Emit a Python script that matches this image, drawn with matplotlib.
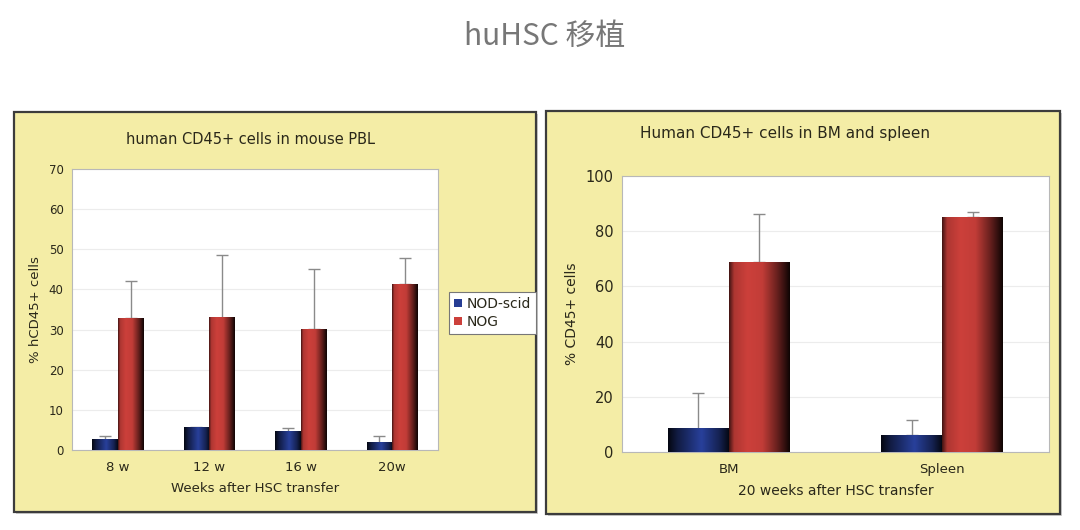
import numpy as np
import matplotlib
matplotlib.use("Agg")
import matplotlib.pyplot as plt
from matplotlib.patches import Rectangle, Patch

plt.rcParams['font.family'] = ['DejaVu Sans']

# left panel: peripheral blood, weeks after transfer
weeks = ["8 w", "12 w", "16 w", "20w"]
pbl_nodscid = [2.5, 5.5, 4.5, 1.8]
pbl_nodscid_err = [1.0, 0.3, 1.0, 1.8]
pbl_nog = [32.8, 33.0, 30.1, 41.3]
pbl_nog_err = [9.4, 15.7, 15.1, 6.5]

# right panel: BM and spleen at 20 weeks
organs = ["BM", "Spleen"]
org_nodscid = [8.5, 6.0]
org_nodscid_err = [12.8, 5.5]
org_nog = [68.7, 85.0]
org_nog_err = [17.5, 1.8]

series_names = ["NOD-scid", "NOG"]
BLUE = np.array([0.15, 0.24, 0.58])
RED = np.array([0.80, 0.25, 0.23])
PANEL_BG = "#F4EDA6"
TXT = "#2a281a"


def shade(base, profile_x, profile_y, n=64):
    t = np.linspace(0, 1, n)
    f = np.interp(t, profile_x, profile_y)
    return np.clip(base[None, :] * f[:, None], 0, 1)[None, :, :]


blue_grad = shade(BLUE, [0, 0.15, 0.55, 0.85, 1], [0.12, 0.45, 1.05, 0.55, 0.15])
red_grad = shade(RED, [0, 0.08, 0.3, 0.55, 0.8, 1], [0.35, 0.85, 1.0, 0.95, 0.5, 0.08])


def gradient_bars(ax, x, heights, width, grad):
    bars = ax.bar(x, heights, width, color="none", edgecolor="none", zorder=3)
    for b in bars:
        x0, w, h = b.get_x(), b.get_width(), b.get_height()
        ax.imshow(grad, extent=[x0, x0 + w, 0, h], aspect="auto",
                  interpolation="bilinear", zorder=3)
    return bars


def draw_panel(ax, cats, blue, blue_err, red, red_err, ymax, ystep, width,
               xlabel, ylabel, fs_y, fs_x, fs_lab):
    x = np.arange(len(cats))
    gradient_bars(ax, x - width / 2, blue, width, blue_grad)
    gradient_bars(ax, x + width / 2, red, width, red_grad)
    for xs, vals, errs in ((x - width / 2, blue, blue_err), (x + width / 2, red, red_err)):
        ax.errorbar(xs, vals, yerr=[np.zeros(len(errs)), errs], fmt="none",
                    ecolor="#8a8a8a", elinewidth=1, capsize=4, capthick=1, zorder=2)
    ax.set_xlim(-0.5, len(cats) - 0.5)
    ax.set_ylim(0, ymax)
    ax.set_yticks(np.arange(0, ymax + 1, ystep))
    ax.set_xticks(x)
    ax.set_xticklabels(cats)
    ax.yaxis.grid(True, color="#ececec", linewidth=0.8)
    ax.set_axisbelow(True)
    ax.tick_params(length=0, colors=TXT)
    ax.tick_params(axis="y", labelsize=fs_y, pad=6)
    ax.tick_params(axis="x", labelsize=fs_x, pad=8)
    for s in ax.spines.values():
        s.set_color("#b8b8b8")
        s.set_linewidth(0.8)
    ax.set_xlabel(xlabel, color=TXT, fontsize=fs_lab, labelpad=6)
    ax.set_ylabel(ylabel, color=TXT, fontsize=fs_lab, labelpad=5)
    ax.set_facecolor("white")


fig = plt.figure(figsize=(10.8, 5.3), dpi=100)

# yellow framed panels (drawn under the axes)
for (px, py, pw, ph) in [(0.0130, 0.0340, 0.4833, 0.7547), (0.5056, 0.0302, 0.4759, 0.7604)]:
    fig.patches.append(Rectangle((px + 0.002, py - 0.004), pw, ph, transform=fig.transFigure,
                                 facecolor="#cfcfcf", edgecolor="none", zorder=-3))
    fig.patches.append(Rectangle((px, py), pw, ph, transform=fig.transFigure,
                                 facecolor=PANEL_BG, edgecolor="#3c3c3c", linewidth=1.6, zorder=-2))

ax1 = fig.add_axes([0.0667, 0.1509, 0.3389, 0.5302])
ax2 = fig.add_axes([0.5759, 0.1472, 0.3954, 0.5208])

draw_panel(ax1, weeks, pbl_nodscid, pbl_nodscid_err, pbl_nog, pbl_nog_err,
           70, 10, 0.28, "Weeks after HSC transfer", "% hCD45+ cells", 8.5, 9.5, 9.5)
draw_panel(ax2, organs, org_nodscid, org_nodscid_err, org_nog, org_nog_err,
           100, 20, 0.285, "20 weeks after HSC transfer", "% CD45+ cells", 10.5, 9.5, 10)

handles = [Patch(facecolor=BLUE, edgecolor="none"), Patch(facecolor=RED, edgecolor="none")]
leg = fig.legend(handles, series_names, loc="upper left",
                 bbox_to_anchor=(442 / 1080, 1 - 285 / 530), fontsize=10,
                 frameon=True, fancybox=False, framealpha=1, handlelength=0.6,
                 handleheight=0.6, handletextpad=0.3, borderpad=0.35,
                 labelspacing=0.3, labelcolor=TXT)
leg.get_frame().set_edgecolor("#777777")
leg.get_frame().set_facecolor("white")
leg.get_frame().set_linewidth(0.8)

fig.text(250 / 1080, 1 - 139 / 530, "human CD45+ cells in mouse PBL", ha="center",
         va="center", fontsize=10.5, color=TXT)
fig.text(785 / 1080, 1 - 134 / 530, "Human CD45+ cells in BM and spleen", ha="center",
         va="center", fontsize=11, color=TXT)

fig.text(0.504, 1 - 36 / 530, "huHSC 移植", ha="center", va="center", fontsize=21.5,
         color="#777777", family=["Noto Sans CJK SC", "DejaVu Sans"])

fig.savefig("out.png", dpi=100)
